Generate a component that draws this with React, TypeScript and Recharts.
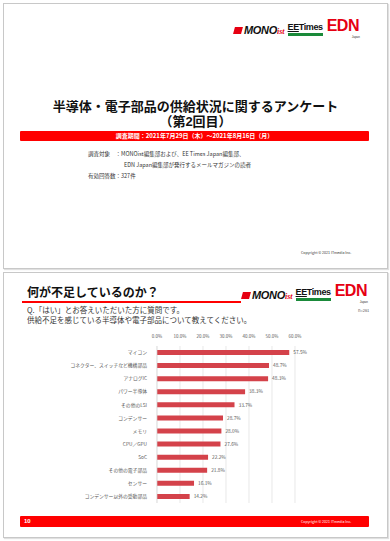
import React from 'react';
import { BarChart, Bar, XAxis, YAxis, CartesianGrid, LabelList } from 'recharts';

const categories = [
  'マイコン',
  'コネクター、スイッチなど機構部品',
  'アナログIC',
  'パワー半導体',
  'その他のLSI',
  'コンデンサー',
  'メモリ',
  'CPU／GPU',
  'SoC',
  'その他の電子部品',
  'センサー',
  'コンデンサー以外の受動部品',
];
const shares = [57.5, 48.7, 48.3, 38.3, 33.7, 28.7, 28.0, 27.6, 22.2, 21.8, 16.1, 14.2];
const xTicks = [0, 10, 20, 30, 40, 50, 60];

const data = categories.map((name, i) => ({ name, value: shares[i] }));

const JP = '"Noto Sans CJK JP", "Noto Sans", sans-serif';
const pct = (v: any) => `${Number(v).toFixed(1)}%`;

const Logos: React.FC<{ top: number; left: number }> = ({ top, left }) => (
  <div style={{ position: 'absolute', top, left, display: 'flex', alignItems: 'flex-end', height: 14 }}>
    <div style={{ display: 'flex', alignItems: 'center', marginRight: 3 }}>
      <div style={{ width: 8, height: 7, background: '#e60012', transform: 'skewX(-15deg)', marginRight: 2 }} />
      <span style={{ fontFamily: 'Arial, "Liberation Sans", sans-serif', fontWeight: 900, fontStyle: 'italic', fontSize: 11, color: '#111', letterSpacing: -0.3 }}>MONO</span>
      <span style={{ fontFamily: '"Liberation Serif", serif', fontWeight: 700, fontStyle: 'italic', fontSize: 8, color: '#e60012', marginTop: 2 }}>ist</span>
    </div>
    <div style={{ display: 'flex', flexDirection: 'column', alignItems: 'center', marginRight: 4 }}>
      <span style={{ fontFamily: '"Liberation Sans Narrow", Arial, sans-serif', fontSize: 9, fontWeight: 700, color: '#111', lineHeight: '9px', letterSpacing: -0.4 }}>
        <span style={{ textDecoration: 'underline' }}>EE</span>Times
      </span>
      <div style={{ width: 35, height: 3, background: '#1a8a3a', marginTop: 1 }} />
    </div>
    <div style={{ position: 'relative' }}>
      <span style={{ fontFamily: '"Liberation Sans Narrow", Arial, sans-serif', fontSize: 16, fontWeight: 700, color: '#e60012', lineHeight: '14px', letterSpacing: -0.5 }}>EDN</span>
      <span style={{ position: 'absolute', right: -1, bottom: -3, fontSize: 3, fontFamily: 'Arial, sans-serif', color: '#333' }}>Japan</span>
    </div>
  </div>
);

const App: React.FC = () => {
  return (
    <div style={{ position: 'absolute', top: 0, left: 0, width: 390, height: 541, background: '#fff', fontFamily: JP, overflow: 'hidden' }}>
      {/* slide 1 */}
      <div style={{ position: 'absolute', top: 3, left: 3, width: 383, height: 264, border: '1px solid #c8c8c8', boxShadow: '1px 1px 1px #e0e0e0' }}>
        <Logos top={18} left={230} />
        <div style={{ position: 'absolute', top: 95, left: 0, width: 383, textAlign: 'center', fontSize: 13, fontWeight: 700, lineHeight: '15px', color: '#111', fontFamily: '"Liberation Sans", Arial, "Noto Sans CJK JP", sans-serif' }}>
          <div>半導体・電子部品の供給状況に関するアンケート</div>
          <div>（第2回目）</div>
        </div>
        <div style={{ position: 'absolute', top: 127, left: 16, width: 349, height: 10, background: '#ff0000', borderRadius: 1, color: '#fff', fontSize: 6, fontWeight: 700, textAlign: 'center', lineHeight: '10px' }}>
          調査期間：2021年7月29日（木）～2021年8月16日（月）
        </div>
        <div style={{ position: 'absolute', top: 145, left: 84, fontSize: 5.5, color: '#333', lineHeight: '11px', whiteSpace: 'nowrap' }}>
          <div>調査対象　：MONOist編集部および、EE Times Japan編集部、</div>
          <div style={{ paddingLeft: 36 }}>EDN Japan編集部が発行するメールマガジンの読者</div>
          <div>有効回答数：327件</div>
        </div>
        <div style={{ position: 'absolute', top: 246, left: 297, fontSize: 3.6, color: '#333', whiteSpace: 'nowrap' }}>Copyright © 2021 ITmedia Inc.</div>
      </div>

      {/* slide 2 */}
      <div style={{ position: 'absolute', top: 272, left: 3, width: 383, height: 264, border: '1px solid #c8c8c8', boxShadow: '1px 1px 1px #e0e0e0' }}>
        <div style={{ position: 'absolute', top: 10, left: 23, fontSize: 12, fontWeight: 700, color: '#111', whiteSpace: 'nowrap' }}>何が不足しているのか？</div>
        <div style={{ position: 'absolute', top: 28, left: 18, width: 219, height: 1.5, background: '#ff0000' }} />
        <Logos top={14} left={238} />
        <div style={{ position: 'absolute', top: 32, left: 23, fontSize: 7.5, color: '#333', lineHeight: '10px', whiteSpace: 'nowrap' }}>
          <div>Q.「はい」とお答えいただいた方に質問です。</div>
          <div>供給不足を感じている半導体や電子部品について教えてください。</div>
        </div>
        <div style={{ position: 'absolute', top: 34, left: 354, fontSize: 4, color: '#555' }}>n=261</div>
        <div style={{ position: 'absolute', top: 243, left: 16, width: 349, height: 11, background: '#ff0000', borderRadius: 1 }}>
          <span style={{ position: 'absolute', left: 4, top: 0, lineHeight: '11px', fontSize: 6, fontWeight: 700, color: '#fff', fontFamily: 'Arial, sans-serif' }}>10</span>
          <span style={{ position: 'absolute', left: 281, top: 0, lineHeight: '11px', fontSize: 3.6, color: '#fff', whiteSpace: 'nowrap' }}>Copyright © 2021 ITmedia Inc.</span>
        </div>
      </div>

      <div style={{ position: 'absolute', top: 331, left: 0 }}>
        <BarChart width={390} height={172} data={data} layout="vertical" margin={{ top: 0, right: 95, left: 0, bottom: 0 }} barCategoryGap={4}>
          <CartesianGrid horizontal={false} stroke="#d9d9d9" strokeWidth={0.6} />
          <XAxis
            type="number"
            orientation="top"
            domain={[0, 60]}
            ticks={xTicks}
            tickFormatter={pct}
            height={15}
            axisLine={false}
            tickLine={false}
            tickMargin={2}
            interval={0}
            tick={{ fill: '#595959', fontSize: 4.5, fontFamily: JP }}
          />
          <YAxis
            type="category"
            dataKey="name"
            width={157}
            axisLine={{ stroke: '#d9d9d9', strokeWidth: 0.6 }}
            tickLine={false}
            tickMargin={4}
            interval={0}
            tick={{ fill: '#595959', fontSize: 4.8, fontFamily: JP }}
          />
          <Bar dataKey="value" fill="#d4424a" barSize={5} isAnimationActive={false}>
            <LabelList dataKey="value" position="right" offset={4} formatter={pct} style={{ fill: '#595959', fontSize: 4.8, fontFamily: JP }} />
          </Bar>
        </BarChart>
      </div>
    </div>
  );
};

export default App;
